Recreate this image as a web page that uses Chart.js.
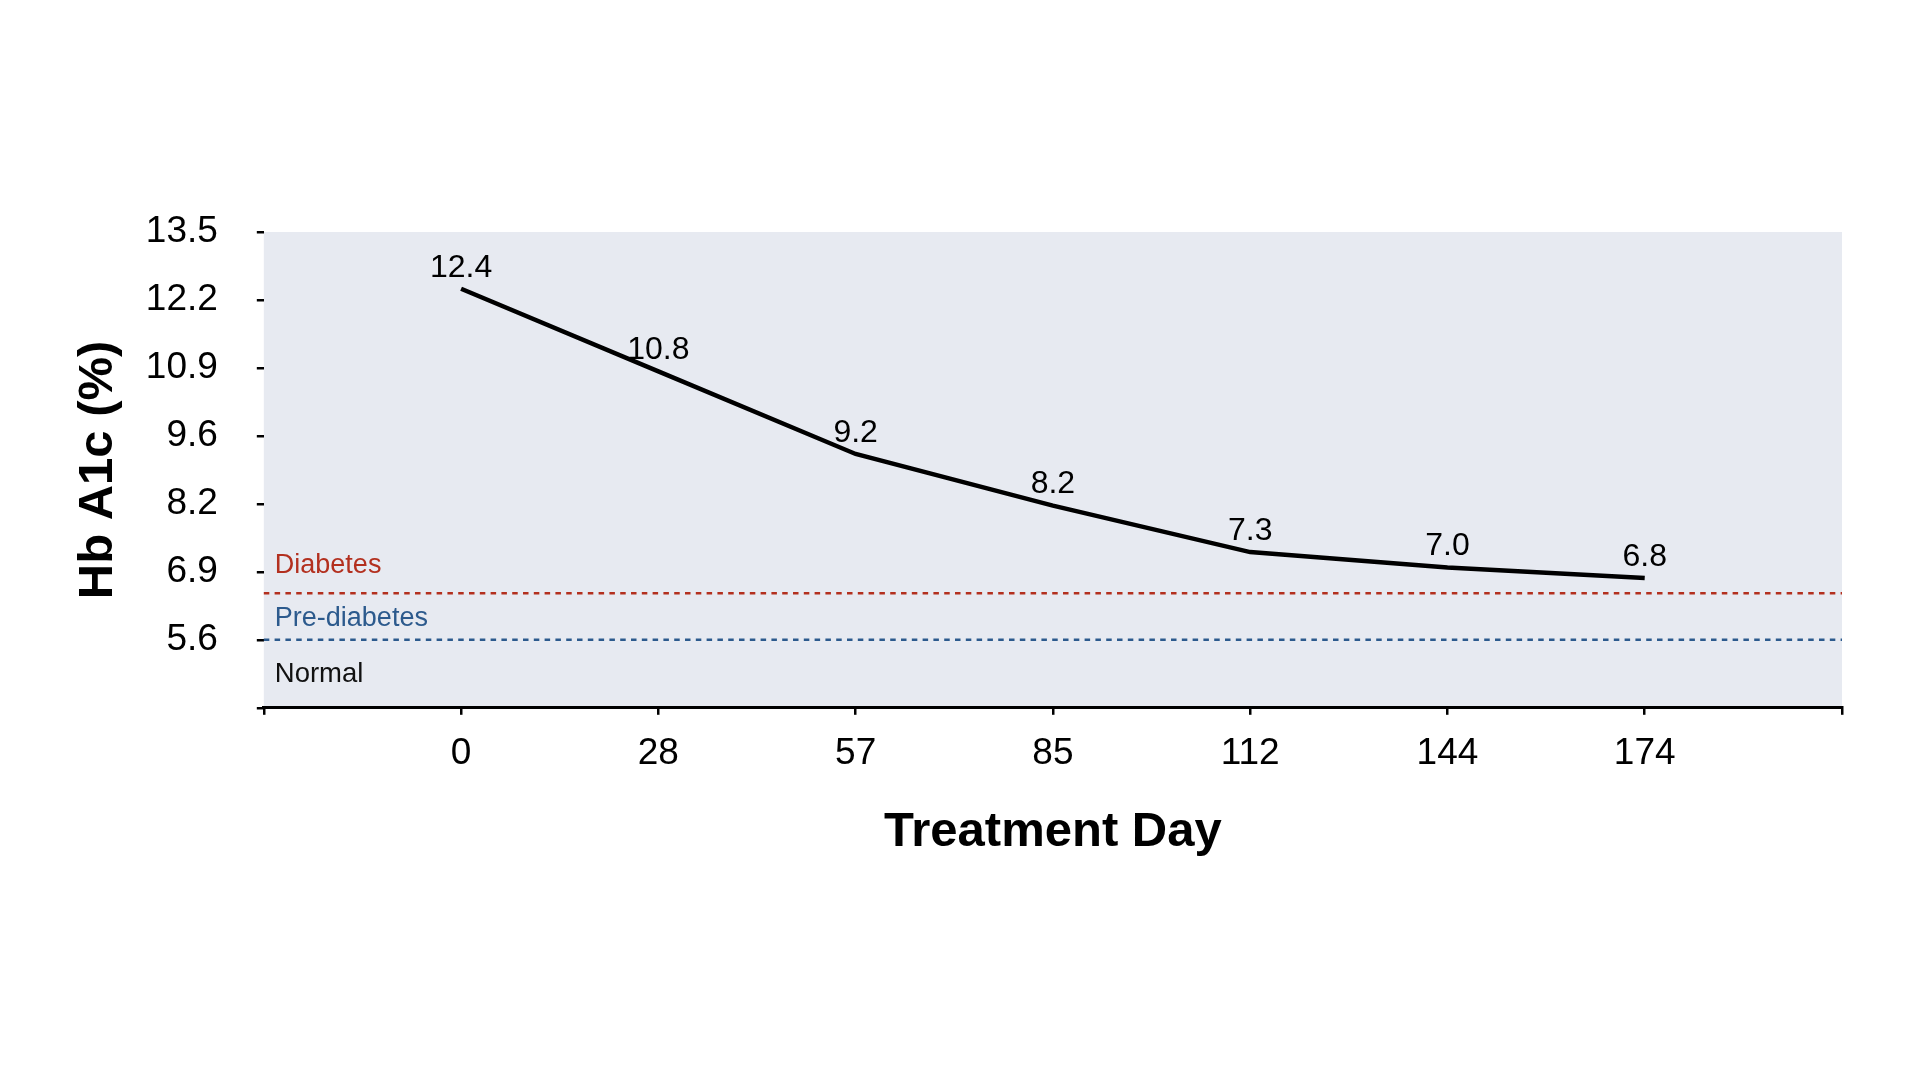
<!DOCTYPE html>
<html>
<head>
<meta charset="utf-8">
<script src="https://cdn.jsdelivr.net/npm/chart.js@4/dist/chart.umd.min.js"></script>
<style>
  html, body { margin: 0; padding: 0; background: #fff; }
  #wrap { width: 1920px; height: 1080px; }
</style>
</head>
<body>
<div id="wrap"><canvas id="mycanvas" width="1920" height="1080"></canvas></div>
<script>
// treatment days and HbA1c readings
var days = [0, 28, 57, 85, 112, 144, 174];
var hba1c = [12.4, 10.8, 9.2, 8.2, 7.3, 7.0, 6.8];

// y axis ticks (bottom one has no label)
var yMin = 4.2833;
var yMax = 13.5;
var yTickLabels = ['', '5.6', '6.9', '8.2', '9.6', '10.9', '12.2', '13.5'];

// threshold lines
var zoneNames = ['Diabetes', 'Pre-diabetes'];
var zoneLimits = [6.5, 5.6];
var zoneColors = ['#b3301f', '#2c5a8d'];

var FONT = "'Liberation Sans', Arial, Helvetica, sans-serif";
var YPAD = 39, XPAD = 17;

// empty slot on each side of the axis
var labels = [''].concat(days.map(String), ['']);
var values = [null].concat(hba1c, [null]);

var zonePlugin = {
	id: 'zones',
	beforeDraw: function(chart) {
		var ctx = chart.ctx, a = chart.chartArea;
		ctx.save();
		ctx.fillStyle = '#e7eaf1';
		ctx.fillRect(a.left, a.top, a.right - a.left, a.bottom - a.top);
		ctx.restore();
	},
	beforeDatasetsDraw: function(chart) {
		var ctx = chart.ctx, a = chart.chartArea, y = chart.scales.y;
		var lift = [28, 21];
		ctx.save();
		ctx.lineWidth = 2.5;
		ctx.setLineDash([5.5, 5.3]);
		ctx.font = '27px ' + FONT;
		ctx.textAlign = 'left';
		ctx.textBaseline = 'middle';
		for (var i = 0; i < zoneLimits.length; i++) {
			var py = y.getPixelForValue(zoneLimits[i]);
			ctx.strokeStyle = zoneColors[i];
			ctx.beginPath();
			ctx.moveTo(a.left, py);
			ctx.lineTo(a.right, py);
			ctx.stroke();
			ctx.fillStyle = zoneColors[i];
			ctx.fillText(zoneNames[i], a.left + 11, py - lift[i]);
		}
		ctx.fillStyle = '#111';
		ctx.font = '27.5px ' + FONT;
		ctx.fillText('Normal', a.left + 11, y.getPixelForValue(zoneLimits[zoneLimits.length - 1]) + 35);
		ctx.restore();
	},
	afterDatasetsDraw: function(chart) {
		var ctx = chart.ctx;
		var meta = chart.getDatasetMeta(0);
		ctx.save();
		ctx.font = '32px ' + FONT;
		ctx.fillStyle = '#000';
		ctx.textAlign = 'center';
		ctx.textBaseline = 'middle';
		for (var i = 0; i < values.length; i++) {
			if (values[i] === null) continue;
			var pt = meta.data[i];
			ctx.fillText(values[i].toFixed(1), pt.x, pt.y - 21);
		}
		ctx.restore();
	}
};

var ctx = document.getElementById('mycanvas');
var LineGraph = new Chart(ctx, {
	type: 'line',
	data: {
		labels: labels,
		datasets: [{
			label: 'Hb A1c',
			data: values,
			borderColor: '#000',
			backgroundColor: '#000',
			borderWidth: 4.5,
			borderCapStyle: 'butt',
			pointRadius: 0,
			pointHoverRadius: 0,
			fill: false,
			tension: 0
		}]
	},
	options: {
		responsive: false,
		animation: false,
		events: [],
		layout: { padding: { left: 65, right: 78, top: 232, bottom: 214 } },
		plugins: {
			legend: { display: false },
			tooltip: { enabled: false }
		},
		scales: {
			x: {
				type: 'category',
				offset: false,
				// chart.js counts tick padding twice when sizing
				afterFit: function(scale) { scale.height -= XPAD; },
				border: { display: true, color: '#000', width: 3 },
				grid: { drawOnChartArea: false, drawTicks: true, tickLength: 7, color: '#000', lineWidth: 2.5 },
				ticks: { color: '#000', padding: XPAD, maxRotation: 0, autoSkip: false, font: { family: FONT, size: 37 } },
				title: {
					display: true, text: 'Treatment Day', color: '#000',
					font: { family: FONT, size: 49, weight: 'bold' },
					padding: { top: 27, bottom: 4 }
				}
			},
			y: {
				min: yMin,
				max: yMax,
				afterBuildTicks: function(scale) {
					var n = yTickLabels.length - 1;
					var t = [];
					for (var i = 0; i <= n; i++) t.push({ value: yMin + (yMax - yMin) * i / n });
					scale.ticks = t;
				},
				afterFit: function(scale) { scale.width -= YPAD; },
				border: { display: false },
				grid: { drawOnChartArea: false, drawTicks: true, tickLength: 7, color: '#000', lineWidth: 2.5 },
				ticks: {
					color: '#000', padding: YPAD, autoSkip: false,
					font: { family: FONT, size: 37 },
					callback: function(v, i) { return yTickLabels[i]; }
				},
				title: {
					display: true, text: 'Hb A1c (%)', color: '#000',
					font: { family: FONT, size: 49, weight: 'bold' },
					padding: { top: 4, bottom: 18 }
				}
			}
		}
	},
	plugins: [zonePlugin]
});
</script>
</body>
</html>
